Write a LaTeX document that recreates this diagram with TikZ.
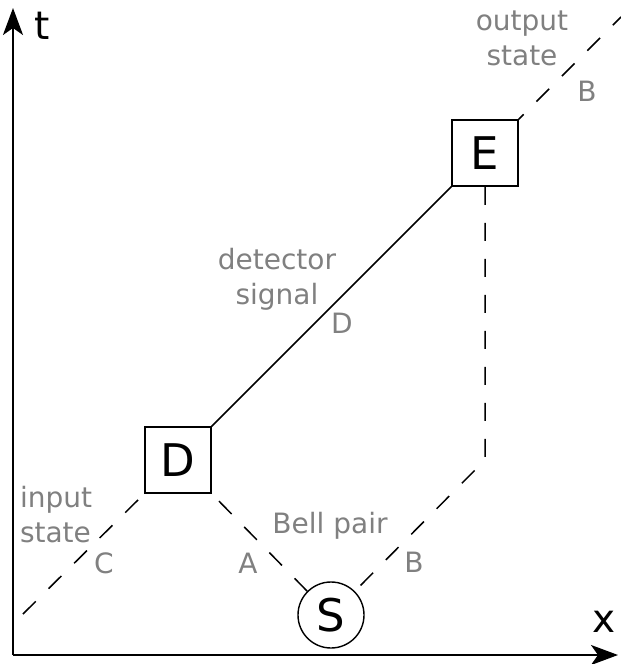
\documentclass[tikz,border=0pt]{standalone}
\usepackage{fontspec}
\setmainfont{DejaVu Sans}
\usetikzlibrary{arrows.meta}
\definecolor{lblgray}{RGB}{128,128,128}
\begin{document}
\begin{tikzpicture}[x=1pt,y=-1pt,
  box/.style={draw,line width=1.5pt,minimum size=66pt,inner sep=0pt,font=\fontsize{45}{45}\selectfont},
  src/.style={draw,circle,line width=1.4pt,minimum size=66pt,inner sep=0pt,font=\fontsize{45}{45}\selectfont},
  lbl/.style={text=lblgray,font=\fontsize{28}{35}\selectfont,inner sep=0pt,outer sep=0pt},
  axlbl/.style={font=\fontsize{39}{39}\selectfont,inner sep=0pt,anchor=base},
  wl/.style={line width=1.5pt},
  dl/.style={wl,dash pattern=on 18pt off 18pt},
  axis/.style={line width=2pt,-{Stealth[length=27pt,width=20pt,inset=7pt]}}]
\useasboundingbox (0,0) rectangle (621,664);
\coordinate (O) at (13,655);
\coordinate (T) at (13,8);
\coordinate (X) at (618,655);
\draw[axis] (O) -- (T);
\draw[axis] (O) -- (X);
\node[axlbl] (tl) at (42,39) {t};
\node[axlbl] (xl) at (604,632) {x};

\node[box] (D) at (178,460) {D};
\node[box] (E) at (485,153) {E};
\node[src] (S) at (331,615) {S};

\coordinate (in) at (23,614);
\coordinate (out) at (621,17);
\coordinate (bend) at (485,460);
\draw[dl] (in) -- (D.south west);
\draw[dl] (S.north west) -- (D.south east);
\draw[dl] (E.south) -- (bend) -- (S.north east);
\draw[wl] (D.north east) -- (E.south west);
\draw[dl,dash phase=11pt] (E.north east) -- (out);

\node[lbl,align=center] (outs) at (522,38) {output\\state};
\node[lbl,anchor=base] (lB1) at (587,101) {B};
\node[lbl,align=center] (dets) at (277,279) {detector\\signal};
\node[lbl,anchor=base] (lD) at (342,333) {D};
\node[lbl,align=left,anchor=west] (ins) at (20,515) {input\\state};
\node[lbl,anchor=base] (lC) at (104,573) {C};
\node[lbl,anchor=base] (lA) at (248,573) {A};
\node[lbl,anchor=base] (bell) at (330,533) {Bell pair};
\node[lbl,anchor=base] (lB2) at (414,572) {B};
\end{tikzpicture}
\end{document}
